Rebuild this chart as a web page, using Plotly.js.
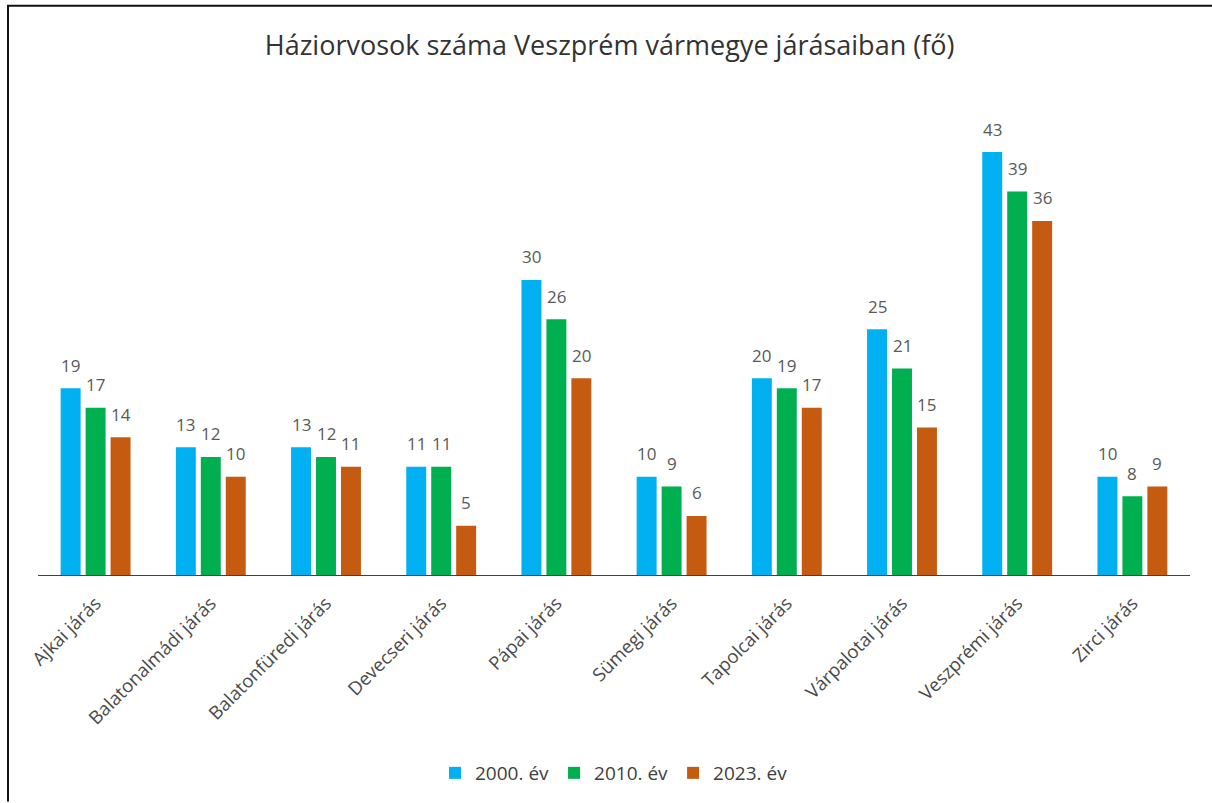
<!DOCTYPE html>
<html>
<head>
<meta charset="utf-8">
<script src="https://cdn.plot.ly/plotly-3.0.1.min.js"></script>
<style>html,body{margin:0;padding:0;background:#fff;}#chart{width:1212px;height:803px;}</style>
</head>
<body>
<div id="chart"></div>
<script>
const categories = ["Ajkai járás","Balatonalmádi járás","Balatonfüredi járás","Devecseri járás","Pápai járás","Sümegi járás","Tapolcai járás","Várpalotai járás","Veszprémi járás","Zirci járás"];
const seriesNames = ["2000. év","2010. év","2023. év"];
const values2000 = [19,13,13,11,30,10,20,25,43,10];
const values2010 = [17,12,12,11,26,9,19,21,39,8];
const values2023 = [14,10,11,5,20,6,17,15,36,9];
const colors = ["#00B0F0","#00B050","#C55A11"];

const allValues = [values2000, values2010, values2023];
const W = 1212, H = 803;
const margin = {l: 38, r: 22, t: 100, b: 227};
const plotW = W - margin.l - margin.r;
const plotH = H - margin.t - margin.b;
const bargap = 0.35;
const catPx = plotW / categories.length;
const slotPx = (1 - bargap) * catPx / 3;
const yMax = 48.3;

const font = "Open Sans, Noto Sans, sans-serif";
const traces = allValues.map((v, i) => ({
  type: "bar",
  name: seriesNames[i],
  x: categories,
  y: v,
  marker: {color: colors[i]},
  hoverinfo: "x+y+name"
}));

const annotations = [];
allValues.forEach((v, i) => {
  v.forEach((val, j) => {
    annotations.push({
      x: categories[j], y: val, xref: "x", yref: "y",
      text: String(val), showarrow: false,
      xshift: (i - 1) * slotPx, yshift: 23, yanchor: "middle",
      font: {family: font, size: 17, color: "#595959"}
    });
  });
});

const px2x = p => (p - margin.l) / plotW;
const px2y = p => (H - margin.b - p) / plotH;

const layout = {
  width: W, height: H,
  margin: margin,
  paper_bgcolor: "#ffffff", plot_bgcolor: "#ffffff",
  barmode: "group", bargap: bargap, bargroupgap: 0.2,
  title: {text: "Háziorvosok száma Veszprém vármegye járásaiban (fő)", x: 0.503, xref: "container", y: 1 - 46/H, yref: "container", yanchor: "middle", xanchor: "center",
    font: {family: font, size: 27, color: "#333333"}},
  xaxis: {showline: true, linecolor: "#404040", linewidth: 1.3, ticks: "", tickangle: -45, ticklabelstandoff: 9,
    tickfont: {family: font, size: 18.5, color: "#4a4a4a"}, showgrid: false, zeroline: false, fixedrange: true},
  yaxis: {range: [0, yMax], showticklabels: false, showgrid: false, zeroline: false, showline: false, ticks: "", fixedrange: true},
  legend: {orientation: "h", x: 0.5, xanchor: "center", y: px2y(773), yanchor: "middle",
    font: {family: font, size: 19, color: "#404040"}, itemwidth: 30, traceorder: "normal"},
  annotations: annotations,
  shapes: [
    {type: "line", xref: "paper", yref: "paper", x0: px2x(8), x1: px2x(8), y0: px2y(5), y1: px2y(803), line: {color: "#111", width: 2}},
    {type: "line", xref: "paper", yref: "paper", x0: px2x(7), x1: px2x(1212), y0: px2y(5.5), y1: px2y(5.5), line: {color: "#111", width: 2}}
  ]
};

Plotly.newPlot("chart", traces, layout, {displayModeBar: false, staticPlot: true});
</script>
</body>
</html>
